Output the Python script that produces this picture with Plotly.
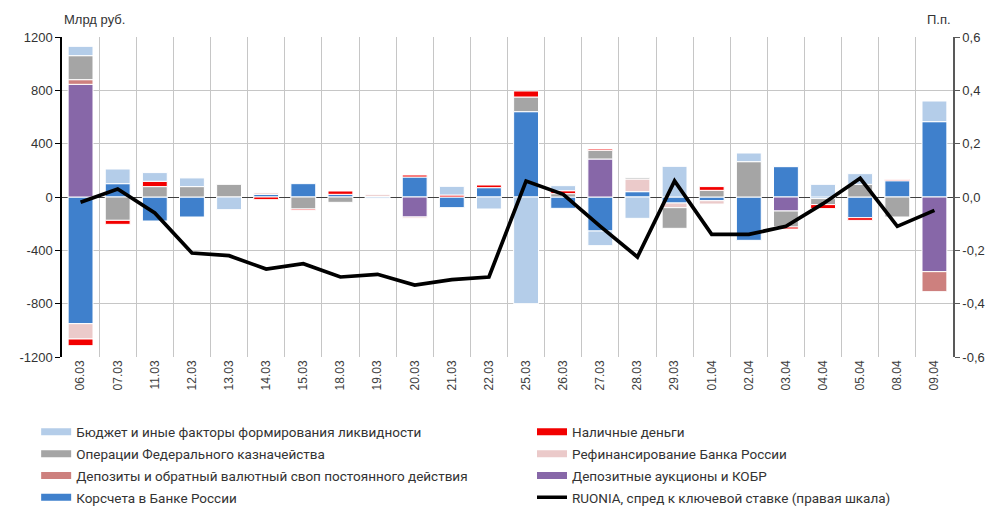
import plotly.graph_objects as go

dates = ["06.03", "07.03", "11.03", "12.03", "13.03", "14.03", "15.03", "18.03", "19.03", "20.03",
         "21.03", "22.03", "25.03", "26.03", "27.03", "28.03", "29.03", "01.04", "02.04", "03.04",
         "04.04", "05.04", "08.04", "09.04"]

# Млрд руб.
korscheta = [-950, 100, -180, -150, None, 20, 100, 20, 5, 150,
             -80, 70, 640, -85, -255, 40, -45, -28, -325, 228,
             -12, -155, 122, 565]
dep_auktsiony = [845, None, None, None, None, None, None, None, None, -150,
                 None, None, None, None, 285, None, None, None, None, -105,
                 None, None, None, -560]
depozity_svop = [35, None, None, None, None, None, None, None, None, None,
                 None, None, None, None, None, None, None, None, None, None,
                 None, None, None, -150]
refinansirovanie = [-115, None, None, None, None, 12, None, None, 15, -10,
                    None, None, None, None, None, 95, -35, -25, None, None,
                    None, None, None, None]
ofk = [180, -175, 78, 78, 95, None, -90, -40, None, None,
       None, None, 110, 25, 65, 10, -155, 50, 265, -120,
       -45, 95, -150, None]
nalichnye = [-50, -30, 40, None, None, -20, -8, 25, None, 15,
             15, 20, 45, 22, 10, None, None, 28, None, -15,
             -30, -20, 8, None]
byudzhet = [70, 110, 65, 65, -95, None, None, None, -12, None,
            65, -90, -800, 38, -110, -160, 230, None, 65, 8,
            95, 80, None, 155]
# п.п.
ruonia = [-0.02, 0.03, -0.06, -0.21, -0.22, -0.27, -0.25, -0.30, -0.29, -0.33,
          -0.31, -0.30, 0.06, 0.01, -0.11, -0.225, 0.06, -0.14, -0.14, -0.11,
          -0.025, 0.07, -0.11, -0.05]

left_ticks = [1200, 800, 400, 0, -400, -800, -1200]
left_text = ["1200", "800", "400", "0", "-400", "-800", "-1200"]
right_ticks = [0.6, 0.4, 0.2, 0.0, -0.2, -0.4, -0.6]
right_text = ["0,6", "0,4", "0,2", "0,0", "-0,2", "-0,4", "-0,6"]

names = {
    "byud": "Бюджет и иные факторы формирования ликвидности",
    "nal": "Наличные деньги",
    "ofk": "Операции Федерального казначейства",
    "ref": "Рефинансирование Банка России",
    "dep": "Депозиты и обратный валютный своп постоянного действия",
    "auk": "Депозитные аукционы и КОБР",
    "kor": "Корсчета в Банке России",
    "ru": "RUONIA, спред к ключевой ставке (правая шкала)",
}
colors = {
    "byud": "#B4CDE9",
    "nal": "#F20000",
    "ofk": "#A5A5A5",
    "ref": "#EBCACA",
    "dep": "#CD807E",
    "auk": "#8767A8",
    "kor": "#3F80CC",
    "ru": "#000000",
}

fig = go.Figure()

# stacking order (nearest zero first)
stack = [("kor", korscheta), ("auk", dep_auktsiony), ("dep", depozity_svop),
         ("ref", refinansirovanie), ("ofk", ofk), ("nal", nalichnye), ("byud", byudzhet)]
for key, vals in stack:
    fig.add_trace(go.Bar(
        x=dates, y=vals, name=names[key],
        marker=dict(color=colors[key], line=dict(color="white", width=1)),
        showlegend=False, legendgroup=key))

fig.add_trace(go.Scatter(
    x=dates, y=ruonia, name=names["ru"], yaxis="y2", mode="lines",
    line=dict(color="black", width=3.7), showlegend=False, legendgroup="ru"))

# legend entries (wide swatches like the original), two columns
col1 = ["byud", "ofk", "dep", "kor"]
col2 = ["nal", "ref", "auk", "ru"]
for legend_id, keys in (("legend", col1), ("legend2", col2)):
    for rank, key in enumerate(keys):
        fig.add_trace(go.Scatter(
            x=[None], y=[None], name=names[key], mode="lines",
            line=dict(color=colors[key], width=7 if key != "ru" else 3.5),
            legendgroup=key, legendrank=rank + 1, showlegend=True, hoverinfo="skip",
            legend=legend_id))

legend_font = dict(family="Roboto, Liberation Sans, sans-serif", size=13.5, color="#333333")
fig.update_layout(
    width=997, height=507,
    margin=dict(l=62, r=44, t=37, b=150, autoexpand=False),
    paper_bgcolor="white", plot_bgcolor="white",
    barmode="relative", bargap=0.33,
    font=dict(family="Liberation Sans, Arial, sans-serif", size=13, color="#333333"),
    showlegend=True,
    legend=dict(orientation="v", x=-0.029, y=-0.186, xanchor="left", yanchor="top",
                traceorder="grouped", font=legend_font, bgcolor="rgba(0,0,0,0)", tracegroupgap=1.3),
    legend2=dict(orientation="v", x=0.5275, y=-0.186, xanchor="left", yanchor="top",
                 traceorder="grouped", font=legend_font, bgcolor="rgba(0,0,0,0)", tracegroupgap=1.3),
    xaxis=dict(type="category", tickson="boundaries", showgrid=True, gridcolor="#C6C6C6", gridwidth=1,
               ticks="", tickangle=-90, tickfont=dict(size=12, color="#404040"),
               showline=False, zeroline=False),
    yaxis=dict(range=[-1200, 1200], tickvals=left_ticks, ticktext=left_text, showgrid=True,
               gridcolor="#C6C6C6", gridwidth=1, zeroline=True, zerolinecolor="#404040", zerolinewidth=1,
               showline=True, linecolor="black", linewidth=1.5, ticks="outside", ticklen=5,
               tickcolor="black", tickfont=dict(size=13, color="#333333")),
    yaxis2=dict(range=[-0.6, 0.6], tickvals=right_ticks, ticktext=right_text, overlaying="y", side="right",
                showgrid=False, zeroline=False, showline=True, linecolor="#595959", linewidth=1.5,
                ticks="outside", ticklen=5, tickcolor="#595959", tickfont=dict(size=13, color="#333333")),
    annotations=[
        dict(text="Млрд руб.", xref="paper", yref="paper", x=0.0, y=1.0, xanchor="left", yanchor="bottom",
             yshift=8, showarrow=False, font=dict(size=13, color="#333333")),
        dict(text="П.п.", xref="paper", yref="paper", x=1.0, y=1.0, xanchor="right", yanchor="bottom",
             yshift=8, showarrow=False, font=dict(size=13, color="#333333")),
    ],
)

fig.write_html("out.html", config={"displayModeBar": False},
               post_script="document.body.style.margin='0px';")
